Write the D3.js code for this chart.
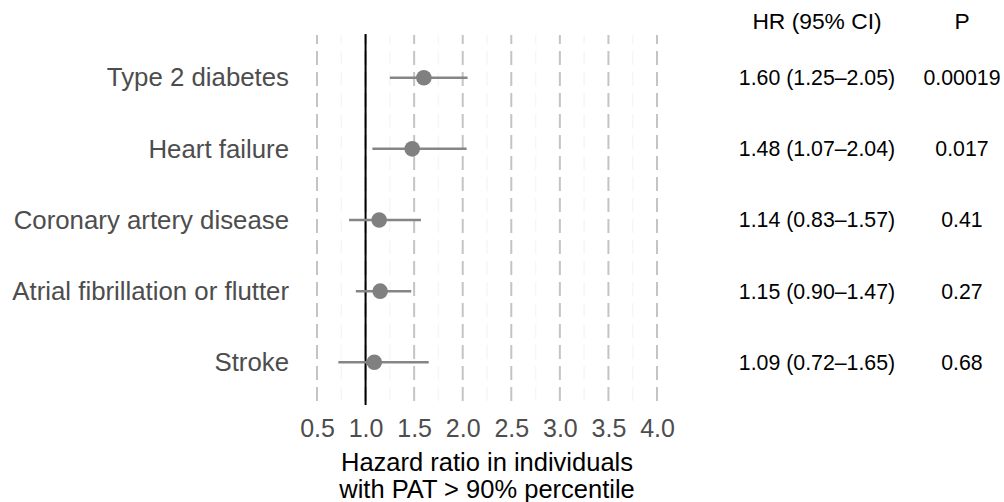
<!DOCTYPE html>
<html>
<head>
<meta charset="utf-8">
<script src="https://cdn.jsdelivr.net/npm/d3@7"></script>
<style>
  body { margin: 0; background: #fff; }
  svg { display: block; font-family: "Liberation Sans", Arial, Helvetica, sans-serif; }
</style>
</head>
<body>
<div id="chart"></div>
<script>
// data
const outcomes = ["Type 2 diabetes", "Heart failure", "Coronary artery disease",
                  "Atrial fibrillation or flutter", "Stroke"];
const hr    = [1.60, 1.48, 1.14, 1.15, 1.09];
const lower = [1.25, 1.07, 0.83, 0.90, 0.72];
const upper = [2.05, 2.04, 1.57, 1.47, 1.65];
const pvals = ["0.00019", "0.017", "0.41", "0.27", "0.68"];
const xTicks = [0.5, 1.0, 1.5, 2.0, 2.5, 3.0, 3.5, 4.0];
const xMinor = [0.75, 1.25, 1.75, 2.25, 2.75, 3.25, 3.75];

const width = 1004, height = 502;
const panelTop = 35, panelBottom = 405;

const svg = d3.select("#chart").append("svg")
    .attr("width", width).attr("height", height);

// scales
const x = d3.scaleLinear().domain([0.5, 4.0]).range([317, 657]);
const y = d3.scalePoint().domain(outcomes).range([panelTop, panelBottom]).padding(0.6);

const fmt = d3.format(".2f");

// minor grid (barely visible)
svg.append("g").selectAll("line").data(xMinor).join("line")
    .attr("x1", d => x(d)).attr("x2", d => x(d))
    .attr("y1", panelTop).attr("y2", panelBottom)
    .attr("stroke", "#f6f6f6").attr("stroke-width", 1.5)
    .attr("stroke-dasharray", "14,7").attr("stroke-dashoffset", 5);

// major grid, dashed
svg.append("g").selectAll("line").data(xTicks).join("line")
    .attr("x1", d => x(d)).attr("x2", d => x(d))
    .attr("y1", panelTop).attr("y2", panelBottom)
    .attr("stroke", "#c4c4c4").attr("stroke-width", 2)
    .attr("stroke-dasharray", "14,7").attr("stroke-dashoffset", 5);

// reference line at HR = 1
svg.append("line")
    .attr("x1", x(1)).attr("x2", x(1))
    .attr("y1", panelTop - 1).attr("y2", panelBottom)
    .attr("stroke", "#000").attr("stroke-width", 2);

// x axis (labels only)
const xAxis = svg.append("g")
    .attr("transform", `translate(0,${panelBottom + 10})`)
    .call(d3.axisBottom(x).tickValues(xTicks).tickFormat(d3.format(".1f")).tickSize(0).tickPadding(4));
xAxis.select(".domain").remove();
xAxis.selectAll("text")
    .attr("font-size", 25)
    .attr("font-family", "Liberation Sans, Arial, sans-serif")
    .attr("fill", "#4d4d4d");

// y axis labels
const yAxis = svg.append("g")
    .attr("transform", "translate(317,0)")
    .call(d3.axisLeft(y).tickSize(0).tickPadding(28));
yAxis.select(".domain").remove();
yAxis.selectAll("text")
    .attr("font-size", 25.8)
    .attr("font-family", "Liberation Sans, Arial, sans-serif")
    .attr("fill", "#4d4d4d");

// confidence intervals
svg.append("g").selectAll("line").data(outcomes).join("line")
    .attr("x1", (d, i) => x(lower[i])).attr("x2", (d, i) => x(upper[i]))
    .attr("y1", d => y(d)).attr("y2", d => y(d))
    .attr("stroke", "#858585").attr("stroke-width", 2.5);

// point estimates
svg.append("g").selectAll("circle").data(outcomes).join("circle")
    .attr("cx", (d, i) => x(hr[i])).attr("cy", d => y(d))
    .attr("r", 7.8)
    .attr("fill", "#808080");

// table on the right
const hrCol = 817, pCol = 962;
svg.append("text").attr("x", hrCol).attr("y", 29)
    .attr("text-anchor", "middle").attr("font-size", 22.8).text("HR (95% CI)");
svg.append("text").attr("x", pCol).attr("y", 29)
    .attr("text-anchor", "middle").attr("font-size", 22.8).text("P");

svg.append("g").selectAll("text").data(outcomes).join("text")
    .attr("x", hrCol).attr("y", d => y(d))
    .attr("dy", "0.35em")
    .attr("text-anchor", "middle").attr("font-size", 21.3)
    .text((d, i) => `${fmt(hr[i])} (${fmt(lower[i])}\u2013${fmt(upper[i])})`);

svg.append("g").selectAll("text").data(outcomes).join("text")
    .attr("x", pCol).attr("y", d => y(d))
    .attr("dy", "0.35em")
    .attr("text-anchor", "middle").attr("font-size", 21.3)
    .text((d, i) => pvals[i]);

// axis title
const title = svg.append("text")
    .attr("text-anchor", "middle").attr("font-size", 25.5).attr("fill", "#000");
title.append("tspan").attr("x", x(2.25)).attr("y", 471).text("Hazard ratio in individuals");
title.append("tspan").attr("x", x(2.25)).attr("y", 497.5).text("with PAT > 90% percentile");
</script>
</body>
</html>
